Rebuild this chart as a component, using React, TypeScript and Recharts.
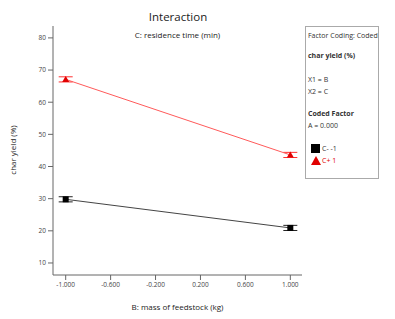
import React from "react";
import { LineChart, Line, XAxis, YAxis, ErrorBar } from "recharts";

const xLevels = [-1, 1];
const cMinusValues = [29.8, 20.9];
const cPlusValues = [67.1, 43.6];
const cMinusErr = [0.8, 0.8];
const cPlusErr = [0.8, 0.8];
const xTicks = [-1, -0.6, -0.2, 0.2, 0.6, 1];
const yTicks = [10, 20, 30, 40, 50, 60, 70, 80];

const cMinusData = xLevels.map((x, i) => ({ x, y: cMinusValues[i], err: cMinusErr[i] }));
const cPlusData = xLevels.map((x, i) => ({ x, y: cPlusValues[i], err: cPlusErr[i] }));

const FONT = "'Open Sans', 'Noto Sans', sans-serif";

const SquareDot = (props: any) => {
  const { cx, cy, index } = props;
  return <rect key={"sq" + index} x={cx - 3} y={cy - 3} width={6} height={6} fill="#000" />;
};
const TriDot = (props: any) => {
  const { cx, cy, index } = props;
  return (
    <path key={"tr" + index} d={`M${cx},${cy - 3.5} L${cx + 3.5},${cy + 2.5} L${cx - 3.5},${cy + 2.5} Z`} fill="#e00000" />
  );
};

const LegendBox = () => (
  <div
    style={{
      position: "absolute",
      left: 305,
      top: 26,
      width: 74,
      height: 153,
      border: "1px solid #aaa",
      fontFamily: FONT,
      fontSize: 7,
      color: "#333",
      boxSizing: "border-box",
      padding: "3px 0 0 2px",
      lineHeight: "11.5px",
    }}
  >
    <div>Factor Coding: Coded</div>
    <div style={{ height: 8 }} />
    <div style={{ fontWeight: 700 }}>char yield (%)</div>
    <div style={{ height: 13 }} />
    <div>X1 = B</div>
    <div>X2 = C</div>
    <div style={{ height: 11 }} />
    <div style={{ fontWeight: 700 }}>Coded Factor</div>
    <div>A = 0.000</div>
    <div style={{ height: 12 }} />
    <div style={{ display: "flex", alignItems: "center", height: 12 }}>
      <svg width={10} height={10} style={{ marginLeft: 3, marginRight: 1 }}>
        <rect x={0} y={0} width={9} height={9} fill="#000" />
      </svg>
      <span>C- -1</span>
    </div>
    <div style={{ display: "flex", alignItems: "center", height: 12, color: "#e00000" }}>
      <svg width={10} height={10} style={{ marginLeft: 3, marginRight: 1 }}>
        <path d="M5,0 L10,9 L0,9 Z" fill="#e00000" />
      </svg>
      <span>C+ 1</span>
    </div>
  </div>
);

export default function App() {
  return (
    <div style={{ position: "absolute", left: 0, top: 0, width: 395, height: 319, background: "#fff", fontFamily: FONT }}>
      <div style={{ position: "absolute", left: 0, top: 9, width: 356, textAlign: "center", fontSize: 11.5, color: "#222" }}>
        Interaction
      </div>
      <div style={{ position: "absolute", left: 53, top: 29, width: 249, textAlign: "center", fontSize: 8, color: "#222" }}>
        C: residence time (min)
      </div>
      <div
        style={{
          position: "absolute",
          left: 12,
          top: 150,
          transform: "translate(-50%, -50%) rotate(-90deg)",
          fontSize: 8,
          color: "#222",
          whiteSpace: "nowrap",
        }}
      >
        char yield (%)
      </div>
      <div style={{ position: "absolute", left: 53, top: 301, width: 249, textAlign: "center", fontSize: 8, color: "#222" }}>
        B: mass of feedstock (kg)
      </div>
      <LegendBox />
      <LineChart width={395} height={319} margin={{ top: 26, right: 93, bottom: 14, left: 13 }}>
        <XAxis
          xAxisId="b"
          type="number"
          dataKey="x"
          domain={[-1.113, 1.104]}
          ticks={xTicks}
          tickFormatter={(v: number) => v.toFixed(3)}
          height={30}
          allowDataOverflow
          stroke="#666"
          tickSize={5}
          tick={{ fontSize: 6.5, fill: "#444", fontFamily: FONT }}
        />
        <XAxis xAxisId="t" orientation="top" type="number" domain={[-1.113, 1.104]} height={0} tick={false} tickLine={false} stroke="#999" />
        <YAxis
          yAxisId="l"
          type="number"
          domain={[6.26, 83.7]}
          ticks={yTicks}
          width={40}
          allowDataOverflow
          stroke="#666"
          tickSize={5}
          tick={{ fontSize: 6.5, fill: "#444", fontFamily: FONT }}
        />
        <YAxis yAxisId="r" orientation="right" type="number" domain={[6.26, 83.7]} width={0} tick={false} tickLine={false} stroke="#999" />
        <Line
          xAxisId="b"
          yAxisId="l"
          data={cMinusData}
          dataKey="y"
          stroke="#444"
          strokeWidth={1}
          dot={SquareDot}
          activeDot={false}
          isAnimationActive={false}
        >
          <ErrorBar dataKey="err" direction="y" width={7} stroke="#222" strokeWidth={1} />
        </Line>
        <Line
          xAxisId="b"
          yAxisId="l"
          data={cPlusData}
          dataKey="y"
          stroke="#ff5a5a"
          strokeWidth={1}
          dot={TriDot}
          activeDot={false}
          isAnimationActive={false}
        >
          <ErrorBar dataKey="err" direction="y" width={7} stroke="#ff3030" strokeWidth={1} />
        </Line>
      </LineChart>
    </div>
  );
}
